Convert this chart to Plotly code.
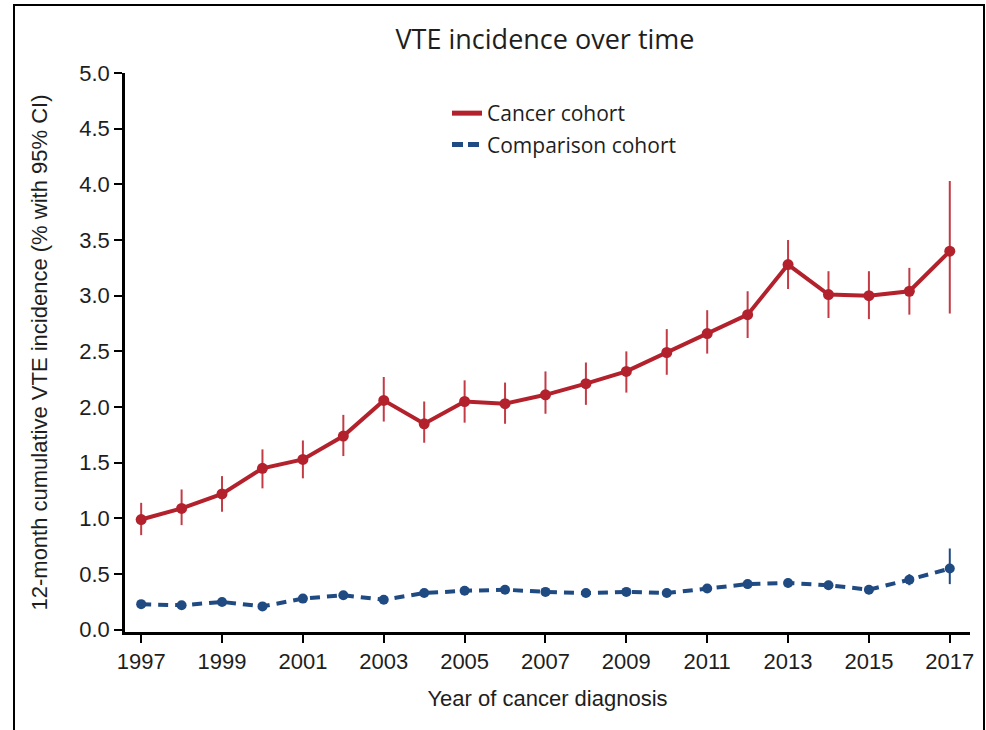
import plotly.graph_objects as go

years = list(range(1997, 2018))
cancer = [0.99, 1.09, 1.22, 1.45, 1.53, 1.74, 2.06, 1.85, 2.05, 2.03, 2.11,
          2.21, 2.32, 2.49, 2.66, 2.83, 3.28, 3.01, 3.00, 3.04, 3.40]
cancer_hi = [1.14, 1.26, 1.38, 1.62, 1.70, 1.93, 2.27, 2.05, 2.24, 2.22, 2.32,
             2.40, 2.50, 2.70, 2.87, 3.04, 3.50, 3.22, 3.22, 3.25, 4.03]
cancer_lo = [0.85, 0.94, 1.06, 1.27, 1.36, 1.56, 1.87, 1.68, 1.86, 1.85, 1.94,
             2.02, 2.13, 2.29, 2.48, 2.62, 3.06, 2.80, 2.79, 2.83, 2.84]
comp = [0.23, 0.22, 0.25, 0.21, 0.28, 0.31, 0.27, 0.33, 0.35, 0.36, 0.34,
        0.33, 0.34, 0.33, 0.37, 0.41, 0.42, 0.40, 0.36, 0.45, 0.55]
comp_hi = [0.26, 0.25, 0.28, 0.24, 0.31, 0.34, 0.30, 0.36, 0.38, 0.39, 0.37,
           0.36, 0.37, 0.36, 0.40, 0.45, 0.46, 0.44, 0.40, 0.50, 0.73]
comp_lo = [0.20, 0.19, 0.22, 0.18, 0.25, 0.28, 0.24, 0.30, 0.32, 0.33, 0.31,
           0.30, 0.31, 0.30, 0.34, 0.37, 0.38, 0.36, 0.32, 0.40, 0.41]
x_ticks = list(range(1997, 2018, 2))

RED = "#B3222C"
RED_ERR = "#C23B45"
BLUE = "#1F4A82"
TICKF = "Liberation Sans, Arial, sans-serif"
LEGF = "Open Sans, sans-serif"
TXT = "#1e1e1e"

# plot area (px): left 125, top 73, width 845, height 559
L, T, W, H = 125, 73, 845, 559

fig = go.Figure()
fig.add_trace(go.Scatter(
    x=years, y=cancer, mode="lines+markers", showlegend=False,
    line=dict(color=RED, width=4), marker=dict(color=RED, size=11),
    error_y=dict(type="data", symmetric=False,
                 array=[h - v for h, v in zip(cancer_hi, cancer)],
                 arrayminus=[v - l for v, l in zip(cancer, cancer_lo)],
                 color=RED_ERR, thickness=2, width=0)))
fig.add_trace(go.Scatter(
    x=years, y=comp, mode="lines+markers", showlegend=False,
    line=dict(color=BLUE, width=4, dash="10px,7px"), marker=dict(color=BLUE, size=10),
    error_y=dict(type="data", symmetric=False,
                 array=[h - v for h, v in zip(comp_hi, comp)],
                 arrayminus=[v - l for v, l in zip(comp, comp_lo)],
                 color=BLUE, thickness=2, width=0)))
fig.add_trace(go.Scatter(x=[None], y=[None], mode="lines", name="Cancer cohort",
                         legendgroup="a", line=dict(color=RED, width=5)))
fig.add_trace(go.Scatter(x=[None], y=[None], mode="lines", name="Comparison cohort",
                         legendgroup="b", line=dict(color=BLUE, width=5, dash="11px,5px")))

fig.update_layout(
    width=986, height=730,
    margin=dict(l=L, r=986 - L - W, t=T, b=730 - T - H, autoexpand=False),
    paper_bgcolor="white", plot_bgcolor="white",
    title=dict(text="VTE incidence over time", x=545 / 986, xanchor="center",
               y=1 - 40 / 730, yanchor="middle",
               font=dict(family=LEGF, size=27, color=TXT)),
    legend=dict(x=(447 - L) / W, y=(632 - 93) / H, xanchor="left", yanchor="top",
                bgcolor="rgba(0,0,0,0)", tracegroupgap=1, itemwidth=30,
                font=dict(family=LEGF, size=21, color=TXT)),
    xaxis=dict(range=[1996.6, 2017.5], tickmode="array", tickvals=x_ticks,
               ticktext=[str(t) for t in x_ticks],
               showline=True, linecolor="black", linewidth=3,
               ticks="outside", ticklen=8, tickwidth=1.5, tickcolor="black",
               showgrid=False, zeroline=False,
               tickfont=dict(family=TICKF, size=22, color=TXT),
               title=dict(text="Year of cancer diagnosis", standoff=18,
                          font=dict(family=TICKF, size=22, color=TXT))),
    yaxis=dict(range=[-0.02, 5.0], dtick=0.5, tick0=0, tickformat=".1f",
               showline=True, linecolor="black", linewidth=2.5,
               ticks="outside", ticklen=8, tickwidth=1.5, tickcolor="black",
               showgrid=False, zeroline=False,
               tickfont=dict(family=TICKF, size=22, color=TXT),
               title=dict(text="12-month cumulative VTE incidence (% with 95% CI)",
                          standoff=26,
                          font=dict(family=TICKF, size=22, color=TXT))),
    shapes=[dict(type="rect", xref="paper", yref="paper",
                 x0=(14 - L) / W, x1=(984 - L) / W,
                 y0=-0.4, y1=(T + H - 5) / H,
                 line=dict(color="black", width=2), fillcolor="rgba(0,0,0,0)",
                 layer="below")],
)

fig.write_html(
    "out.html",
    config={"displayModeBar": False},
    post_script="document.body.style.margin='0';document.body.style.overflow='hidden';",
)
